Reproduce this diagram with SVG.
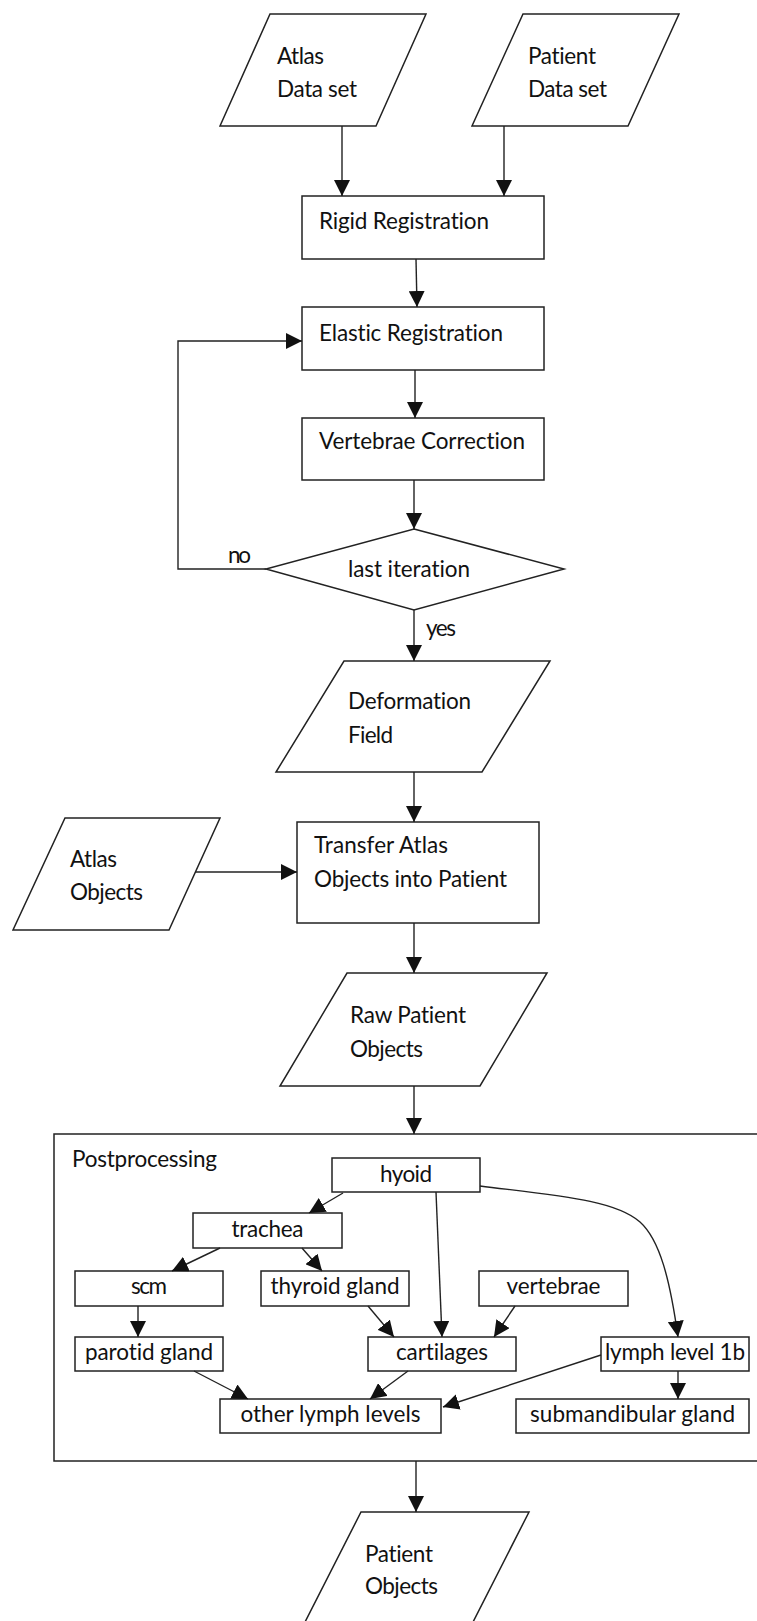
<svg xmlns="http://www.w3.org/2000/svg" width="757" height="1621" viewBox="0 0 757 1621">
<style>
.s{fill:#fff;stroke:#222;stroke-width:1.5}
.f{fill:none;stroke:#222;stroke-width:1.5}
.t{font-family:Lato,"Liberation Sans",sans-serif;font-size:22.5px;fill:#111;font-variant-ligatures:none;font-feature-settings:"liga" 0}
.c{text-anchor:middle}
.e{fill:none;stroke:#222;stroke-width:1.4}
</style>
<defs>
<marker id="ah" markerUnits="userSpaceOnUse" markerWidth="16" markerHeight="16" refX="16" refY="8" orient="auto" viewBox="0 0 16 16">
<path d="M0,0 L16,8 L0,16 z" fill="#111"/>
</marker>
</defs>
<rect width="757" height="1621" fill="#fff"/>

<g id="atlas-data-set">
<polygon class="s" points="270,14 426,14 376,126 220,126"/>
<text class="t" x="277" y="64" textLength="47">Atlas</text>
<text class="t" x="277" y="97" textLength="80">Data set</text>
</g>
<g id="patient-data-set">
<polygon class="s" points="523,14 679,14 628,126 472,126"/>
<text class="t" x="528" y="64" textLength="68">Patient</text>
<text class="t" x="528" y="97" textLength="79">Data set</text>
</g>
<g id="rigid-registration">
<rect class="s" x="302" y="196" width="242" height="63"/>
<text class="t" x="319" y="229" textLength="170">Rigid Registration</text>
</g>
<g id="elastic-registration">
<rect class="s" x="302" y="307" width="242" height="63"/>
<text class="t" x="319" y="341" textLength="184">Elastic Registration</text>
</g>
<g id="vertebrae-correction">
<rect class="s" x="302" y="418" width="242" height="62"/>
<text class="t" x="319" y="449" textLength="206">Vertebrae Correction</text>
</g>
<g id="last-iteration">
<polygon class="s" points="414,529 564,569 414,610 266,569"/>
<text class="t" x="348" y="577" textLength="122">last iteration</text>
</g>
<g id="labels">
<text class="t" x="228" y="563" textLength="23">no</text>
<text class="t" x="426" y="636" textLength="30">yes</text>
</g>
<g id="deformation-field">
<polygon class="s" points="344,661 550,661 482,772 276,772"/>
<text class="t" x="348" y="709" textLength="123">Deformation</text>
<text class="t" x="348" y="743" textLength="45">Field</text>
</g>
<g id="atlas-objects">
<polygon class="s" points="65,818 220,818 169,930 13,930"/>
<text class="t" x="70" y="867" textLength="47">Atlas</text>
<text class="t" x="70" y="900" textLength="73">Objects</text>
</g>
<g id="transfer">
<rect class="s" x="297" y="822" width="242" height="101"/>
<text class="t" x="314" y="853" textLength="134">Transfer Atlas</text>
<text class="t" x="314" y="887" textLength="193">Objects into Patient</text>
</g>
<g id="raw-patient-objects">
<polygon class="s" points="347,973 547,973 480,1086 280,1086"/>
<text class="t" x="350" y="1023" textLength="116">Raw Patient</text>
<text class="t" x="350" y="1057" textLength="73">Objects</text>
</g>
<g id="postprocessing">
<rect class="f" x="54" y="1134" width="712" height="327"/>
<text class="t" x="72" y="1167" textLength="145">Postprocessing</text>
</g>
<g id="hyoid">
<rect class="s" x="332" y="1158" width="148" height="34"/>
<text class="t c" x="406" y="1182" textLength="52">hyoid</text>
</g>
<g id="trachea">
<rect class="s" x="193" y="1213" width="149" height="35"/>
<text class="t c" x="267.5" y="1237" textLength="72">trachea</text>
</g>
<g id="scm">
<rect class="s" x="75" y="1271" width="148" height="35"/>
<text class="t c" x="149" y="1294" textLength="36">scm</text>
</g>
<g id="thyroid-gland">
<rect class="s" x="261" y="1271" width="148" height="35"/>
<text class="t c" x="335" y="1294" textLength="129">thyroid gland</text>
</g>
<g id="vertebrae">
<rect class="s" x="479" y="1271" width="149" height="35"/>
<text class="t c" x="553.5" y="1294" textLength="94">vertebrae</text>
</g>
<g id="parotid-gland">
<rect class="s" x="75" y="1337" width="148" height="34"/>
<text class="t c" x="149" y="1360" textLength="128">parotid gland</text>
</g>
<g id="cartilages">
<rect class="s" x="368" y="1337" width="148" height="34"/>
<text class="t c" x="442" y="1360" textLength="92">cartilages</text>
</g>
<g id="lymph-level-1b">
<rect class="s" x="601" y="1337" width="148" height="34"/>
<text class="t c" x="675" y="1360" textLength="140">lymph level 1b</text>
</g>
<g id="other-lymph-levels">
<rect class="s" x="220" y="1399" width="221" height="34"/>
<text class="t c" x="330.5" y="1422" textLength="180">other lymph levels</text>
</g>
<g id="submandibular-gland">
<rect class="s" x="516" y="1399" width="233" height="34"/>
<text class="t c" x="632.5" y="1422" textLength="205">submandibular gland</text>
</g>
<g id="patient-objects">
<polygon class="s" points="361,1512 529,1512 471,1626 303,1626"/>
<text class="t" x="365" y="1562" textLength="68">Patient</text>
<text class="t" x="365" y="1594" textLength="73">Objects</text>
</g>

<g id="connectors" class="e" marker-end="url(#ah)">
<line x1="342" y1="126" x2="342" y2="196"/>
<line x1="504" y1="126" x2="504" y2="196"/>
<line x1="416" y1="259" x2="417" y2="307"/>
<line x1="415" y1="370" x2="415" y2="418"/>
<line x1="414" y1="480" x2="414" y2="529"/>
<polyline points="266,569 178,569 178,341 302,341"/>
<line x1="414" y1="610" x2="414" y2="661"/>
<line x1="414" y1="772" x2="414" y2="822"/>
<line x1="195" y1="872" x2="297" y2="872"/>
<line x1="414" y1="923" x2="414" y2="973"/>
<line x1="414" y1="1086" x2="414" y2="1134"/>
<line x1="416" y1="1461" x2="416" y2="1512"/>
<line x1="343" y1="1193" x2="309" y2="1213"/>
<line x1="436" y1="1192" x2="442" y2="1337"/>
<path d="M480,1186 C560,1196 615,1200 640,1222 C660,1240 670,1280 678,1337"/>
<line x1="220" y1="1248" x2="172" y2="1271"/>
<line x1="302" y1="1248" x2="322" y2="1271"/>
<line x1="138" y1="1306" x2="138" y2="1337"/>
<line x1="368" y1="1306" x2="394" y2="1337"/>
<line x1="515" y1="1306" x2="494" y2="1337"/>
<line x1="194" y1="1371" x2="248" y2="1399"/>
<line x1="408" y1="1371" x2="370" y2="1399"/>
<line x1="601" y1="1355" x2="443" y2="1407"/>
<line x1="678" y1="1371" x2="678" y2="1399"/>
</g>
</svg>
